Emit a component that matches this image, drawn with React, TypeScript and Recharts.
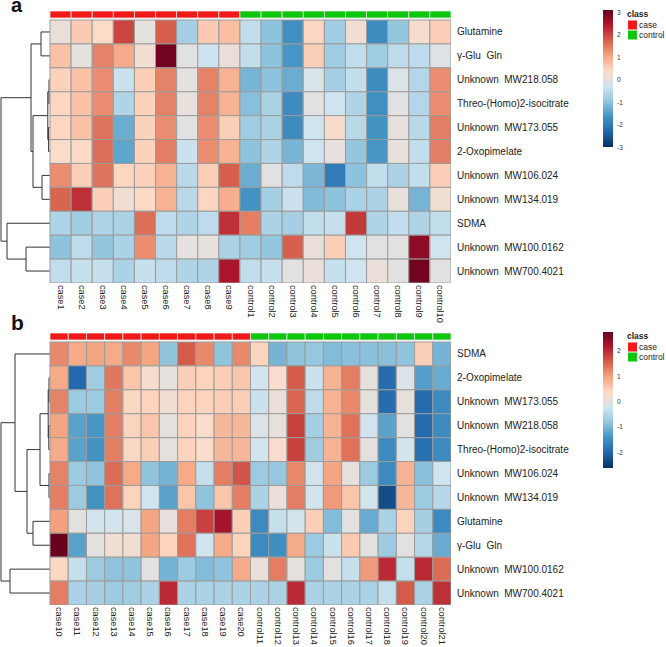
import React from 'react';
import { ScatterChart, Scatter, XAxis, YAxis, ReferenceLine } from 'recharts';

// ---- panel a ----
const rowsA = [
  'Glutamine',
  'γ-Glu  Gln',
  'Unknown  MW218.058',
  'Threo-(Homo)2-isocitrate',
  'Unknown  MW173.055',
  '2-Oxopimelate',
  'Unknown  MW106.024',
  'Unknown  MW134.019',
  'SDMA',
  'Unknown  MW100.0162',
  'Unknown  MW700.4021',
];
const colsA = [
  'case1', 'case2', 'case3', 'case4', 'case5', 'case6', 'case7', 'case8', 'case9',
  'control1', 'control2', 'control3', 'control4', 'control5', 'control6', 'control7',
  'control8', 'control9', 'control10',
];
const classA = [
  'case', 'case', 'case', 'case', 'case', 'case', 'case', 'case', 'case',
  'control', 'control', 'control', 'control', 'control', 'control', 'control', 'control', 'control', 'control',
];
const valuesA = [
  [0.1, 0.6, 0.35, 2.0, 0.0, 1.75, -0.75, 0.6, 0.75, -0.45, -1.0, -1.7, 0.45, -0.8, 0.2, -1.75, -0.95, 0.25, 0.55],
  [0.7, 0.0, 1.4, 1.0, 0.2, 3.0, -0.05, -0.33, 0.1, -0.45, -1.0, -1.6, 0.55, -0.8, -0.45, -0.8, -0.5, -0.5, -0.1],
  [0.5, 0.7, 1.3, -0.35, 0.55, 1.4, 0.0, 1.4, 0.9, -1.2, -1.0, -1.3, -0.15, -0.75, -0.45, -1.75, -0.15, -0.6, 1.3],
  [0.45, 0.7, 1.3, -0.65, 0.5, 1.4, 0.05, 1.4, 0.9, -1.05, -0.7, -1.75, -0.05, -0.3, -0.65, -1.7, -0.05, -0.6, 1.3],
  [0.45, 0.7, 1.55, -1.3, 0.5, 1.3, -0.05, 1.3, 0.55, -0.8, -0.7, -1.75, -0.3, 0.3, -0.55, -1.65, 0.05, -0.55, 1.45],
  [0.35, 0.4, 1.6, -1.4, 0.5, 1.45, -0.35, 1.3, 0.9, -1.0, -0.65, -1.2, -0.3, 0.05, -0.95, -1.6, 0.05, -0.45, 1.45],
  [1.3, 0.55, 1.55, 0.45, 0.5, 0.9, -0.55, 0.55, 1.75, -1.3, -0.05, -0.5, -1.15, -2.0, -1.0, -0.45, -0.7, -0.45, 0.55],
  [1.7, 2.2, 0.55, 0.2, 0.4, 0.9, -0.55, 0.45, 0.95, -1.65, -0.75, -0.35, -1.1, -1.0, -0.7, -0.7, 0.05, -1.2, 0.2],
  [-0.65, -0.8, -0.65, -0.7, 1.6, -0.5, -0.65, -0.5, 2.2, 1.45, -0.7, -0.75, -0.45, -0.4, 2.1, -0.65, -0.45, -0.65, -0.45],
  [-1.0, -0.5, -0.95, -0.7, 1.3, -0.55, 0.0, 0.05, -0.7, -0.8, -0.95, 1.75, 0.1, 0.55, -0.3, -0.05, -0.05, 2.75, -0.3],
  [-0.45, -0.4, -0.4, -0.7, -0.4, -0.5, -0.65, -0.65, 2.5, -0.45, -0.4, -0.05, 0.1, -0.4, -0.3, 0.1, -0.05, 3.0, -0.05],
];
// hclust style merges: negative = leaf (row), positive = earlier merge
const mergeA = [[-3, -4], [-5, -6], [1, 2], [-1, -2], [-7, -8], [3, 5], [4, 6], [-10, -11], [-9, 8], [7, 9]];
const heightA = [1.0, 1.4, 2.2, 9, 8, 17, 19, 24, 43, 49];
const rangeA = [-3.0, 3.1];
const legendTicksA = [3, 2, 1, 0, -1, -2, -3];

// ---- panel b ----
const rowsB = [
  'SDMA',
  '2-Oxopimelate',
  'Unknown  MW173.055',
  'Unknown  MW218.058',
  'Threo-(Homo)2-isocitrate',
  'Unknown  MW106.024',
  'Unknown  MW134.019',
  'Glutamine',
  'γ-Glu  Gln',
  'Unknown  MW100.0162',
  'Unknown  MW700.4021',
];
const colsB = [
  'case10', 'case11', 'case12', 'case13', 'case14', 'case15', 'case16', 'case17', 'case18', 'case19', 'case20',
  'control11', 'control12', 'control13', 'control14', 'control15', 'control16', 'control17', 'control18',
  'control19', 'control20', 'control21',
];
const classB = [
  'case', 'case', 'case', 'case', 'case', 'case', 'case', 'case', 'case', 'case', 'case',
  'control', 'control', 'control', 'control', 'control', 'control', 'control', 'control', 'control', 'control', 'control',
];
const valuesB = [
  [1.2, 0.9, 0.95, 0.9, 1.2, 0.95, -0.85, 1.6, 1.2, -0.85, 1.2, 0.45, -1.05, -0.85, -0.8, -0.95, -0.9, -0.9, -0.9, -0.85, 0.5, -1.05],
  [0.9, -2.0, -0.7, 1.35, 0.6, 0.25, 0.05, 0.5, 0.45, 0.5, 0.6, -0.2, 0.3, 1.6, -0.3, 0.8, 1.3, 0.05, -1.95, -0.1, -1.3, -1.15],
  [1.25, -0.75, -0.75, 1.3, 0.4, 0.45, 0.2, 0.45, 0.45, 0.5, 0.5, -0.3, 0.1, 1.5, -0.4, 0.8, 1.2, 0.05, -1.95, 0.05, -1.95, -1.55],
  [0.95, -1.25, -1.4, 1.3, 0.45, 0.6, 0.0, 0.45, 0.3, 0.75, 0.75, -0.1, 0.05, 1.8, -0.65, 0.8, 1.4, -0.25, -1.25, 0.0, -1.95, -1.55],
  [0.9, -1.25, -1.45, 1.3, 0.4, 0.5, 0.0, 0.45, 0.3, 0.75, 0.75, -0.2, 0.3, 1.8, -0.7, 0.8, 1.4, 0.0, -1.55, -0.2, -1.9, -1.55],
  [1.25, -0.75, -0.85, 1.45, 0.9, -0.85, -1.05, 0.9, -0.35, 1.3, 1.65, -0.75, -0.8, 1.2, -0.2, 0.95, 0.05, -0.75, -1.55, 0.8, -0.9, -0.25],
  [1.3, -0.75, -1.45, 1.4, 0.45, -0.25, -1.25, 0.6, -0.85, 0.6, 1.3, -0.6, 0.1, 1.3, -0.2, 1.05, 0.6, -0.2, -2.3, 0.75, -0.75, -0.5],
  [1.0, 0.0, -0.2, -0.2, -0.15, 0.95, 0.05, 1.3, 1.8, 2.25, 0.5, -1.55, -0.35, -0.2, 0.5, -0.95, 0.0, -1.15, -0.6, 0.45, -0.65, -1.55],
  [2.75, -1.25, 0.0, 0.2, 0.2, 0.95, 0.45, 1.4, -0.25, 0.9, 0.45, -1.55, -1.5, 0.9, -0.75, -0.3, 0.55, 0.0, -0.75, 0.0, -0.5, -1.15],
  [0.4, -0.35, -0.75, -0.85, -0.85, 0.0, -1.05, -0.75, -0.95, -0.85, 0.9, 0.1, 1.3, 0.05, -0.75, 0.0, -0.35, 1.05, 2.0, -0.35, 2.0, 1.45],
  [1.3, -0.6, -0.65, -0.75, -0.7, -0.6, 2.0, -0.6, -0.6, -0.6, -0.6, -0.6, -0.6, 2.0, -0.6, -0.6, -0.6, -0.6, -0.35, 1.6, -0.6, 1.95],
];
const mergeB = [[-2, -3], [-4, -5], [1, 2], [-6, -7], [3, 4], [-8, -9], [5, 6], [-1, 7], [-10, -11], [8, 9]];
const heightB = [1.0, 1.2, 1.8, 1.0, 10, 17, 23, 35, 40, 49];
const rangeB = [-2.63, 2.75];
const legendTicksB = [2, 1, 0, -1, -2];

const classColors: Record<string, string> = { case: '#F21818', control: '#0DC70D' };
const RDBU = ['#053061', '#2166AC', '#4393C3', '#92C5DE', '#D1E5F0', '#FDDBC7', '#F4A582', '#D6604D', '#B2182B', '#67001F'];

const FONT = "'Liberation Sans', Arial, Helvetica, sans-serif";
const PAGE_W = 666;
const PAGE_H = 647;
const HEAT_LEFT = 50;
const HEAT_RIGHT = 451;
const ANNOT_H = 7;
const GAP = 2;

function hexRgb(h: string) {
  const n = parseInt(h.slice(1), 16);
  return [(n >> 16) & 255, (n >> 8) & 255, n & 255];
}

function heatColor(v: number, lo: number, hi: number) {
  const t = Math.min(1, Math.max(0, (v - lo) / (hi - lo))) * (RDBU.length - 1);
  const i = Math.min(RDBU.length - 2, Math.floor(t));
  const f = t - i;
  const a = hexRgb(RDBU[i]);
  const b = hexRgb(RDBU[i + 1]);
  const c = a.map((x, k) => Math.round(x + (b[k] - x) * f));
  return `rgb(${c[0]},${c[1]},${c[2]})`;
}

function dendroSegments(merge: number[][], heights: number[], span: number) {
  const hMax = Math.max(...heights);
  const pos: { x: number; y: number }[] = [];
  const ref = (r: number) => (r < 0 ? { x: 0, y: -r - 0.5 } : pos[r - 1]);
  const segs: { x: number; y: number }[][] = [];
  merge.forEach(([a, b], i) => {
    const A = ref(a);
    const B = ref(b);
    const x = -(heights[i] / hMax) * span;
    segs.push([{ x, y: A.y }, { x, y: B.y }]);
    segs.push([{ x, y: A.y }, { x: A.x, y: A.y }]);
    segs.push([{ x, y: B.y }, { x: B.x, y: B.y }]);
    pos.push({ x, y: (A.y + B.y) / 2 });
  });
  return segs;
}

interface PanelProps {
  rows: string[];
  cols: string[];
  classes: string[];
  values: number[][];
  merge: number[][];
  heights: number[];
  range: number[];
  chartTop: number;
  chartBottom: number;
  heatTop: number;
  heatBottom: number;
}

function HeatPanel({ rows, cols, classes, values, merge, heights, range, chartTop, chartBottom, heatTop, heatBottom }: PanelProps) {
  const nR = rows.length;
  const nC = cols.length;
  const cw = (HEAT_RIGHT - HEAT_LEFT) / nC;
  const rh = (heatBottom - heatTop) / nR;
  const xMin = -HEAT_LEFT / cw;
  const yMin = -(GAP + ANNOT_H) / rh;
  const annotY = -(GAP + ANNOT_H / 2) / rh;
  const marginTop = heatTop - GAP - ANNOT_H - chartTop;

  const cells = values.flatMap((row, r) => row.map((v, c) => ({ x: c + 0.5, y: r + 0.5, v })));
  const annot = classes.map((cls, c) => ({ x: c + 0.5, y: annotY, cls }));
  const segs = dendroSegments(merge, heights, (HEAT_LEFT - 1) / cw);

  return (
    <div style={{ position: 'absolute', left: 0, top: chartTop }}>
      <ScatterChart
        width={PAGE_W}
        height={chartBottom - chartTop}
        margin={{ top: marginTop, right: 0, bottom: 0, left: 0 }}
      >
        <XAxis
          type="number"
          dataKey="x"
          domain={[xMin, nC]}
          allowDataOverflow
          ticks={cols.map((_, i) => i + 0.5)}
          interval={0}
          height={chartBottom - heatBottom}
          axisLine={false}
          tickLine={false}
          tickSize={0}
          tickMargin={2}
          tick={(p: any) => (
            <text
              x={p.x}
              y={p.y}
              transform={`rotate(90, ${p.x}, ${p.y})`}
              textAnchor="start"
              dominantBaseline="central"
              fontSize={9.2}
              fontFamily={FONT}
              fill="#222"
            >
              {cols[Math.floor(p.payload.value)]}
            </text>
          )}
        />
        <YAxis
          type="number"
          dataKey="y"
          orientation="right"
          domain={[yMin, nR]}
          reversed
          allowDataOverflow
          ticks={rows.map((_, i) => i + 0.5)}
          interval={0}
          width={PAGE_W - HEAT_RIGHT}
          axisLine={false}
          tickLine={false}
          tickSize={0}
          tickMargin={6}
          tick={(p: any) => (
            <text
              x={p.x}
              y={p.y}
              textAnchor="start"
              dominantBaseline="central"
              fontSize={10}
              fontFamily={FONT}
              fill="#222"
              style={{ whiteSpace: 'pre' }}
            >
              {rows[Math.floor(p.payload.value)]}
            </text>
          )}
        />
        <Scatter
          data={cells}
          isAnimationActive={false}
          shape={(p: any) => (
            <rect
              x={p.cx - cw / 2}
              y={p.cy - rh / 2}
              width={cw}
              height={rh}
              fill={heatColor(p.payload.v, range[0], range[1])}
              stroke="#9c9c9c"
              strokeWidth={1}
            />
          )}
        />
        <Scatter
          data={annot}
          isAnimationActive={false}
          shape={(p: any) => (
            <rect
              x={p.cx - cw / 2}
              y={p.cy - ANNOT_H / 2}
              width={cw}
              height={ANNOT_H}
              fill={classColors[p.payload.cls]}
              stroke="#e2e2e2"
              strokeWidth={0.8}
            />
          )}
        />
        {segs.map((s, i) => (
          <ReferenceLine key={i} segment={s} stroke="#333" strokeWidth={1} ifOverflow="visible" />
        ))}
      </ScatterChart>
    </div>
  );
}

function ColorLegend({ id, top, bottom, range, ticks }: { id: string; top: number; bottom: number; range: number[]; ticks: number[] }) {
  const [lo, hi] = range;
  const h = bottom - top;
  return (
    <g fontFamily={FONT}>
      <defs>
        <linearGradient id={id} x1="0" y1="0" x2="0" y2="1">
          {RDBU.slice().reverse().map((c, i) => (
            <stop key={i} offset={`${(i / (RDBU.length - 1)) * 100}%`} stopColor={c} />
          ))}
        </linearGradient>
      </defs>
      <rect x={603} y={top} width={10} height={h} fill={`url(#${id})`} />
      {ticks.map((t) => (
        <text key={t} x={617} y={top + ((hi - t) / (hi - lo)) * h} fontSize={6.5} dominantBaseline="central" fill="#333">
          {t}
        </text>
      ))}
      <text x={627} y={top + 7} fontSize={8.5} fontWeight="bold" fill="#222">class</text>
      <rect x={628} y={top + 10.5} width={9} height={9} fill={classColors.case} />
      <rect x={628} y={top + 20.5} width={9} height={9} fill={classColors.control} />
      <text x={639} y={top + 15} fontSize={8.5} dominantBaseline="central" fill="#222">case</text>
      <text x={639} y={top + 25} fontSize={8.5} dominantBaseline="central" fill="#222">control</text>
    </g>
  );
}

export default function App() {
  return (
    <div style={{ position: 'absolute', left: 0, top: 0, width: PAGE_W, height: PAGE_H, background: '#fff', overflow: 'hidden' }}>
      <HeatPanel
        rows={rowsA}
        cols={colsA}
        classes={classA}
        values={valuesA}
        merge={mergeA}
        heights={heightA}
        range={rangeA}
        chartTop={0}
        chartBottom={330}
        heatTop={20}
        heatBottom={283}
      />
      <HeatPanel
        rows={rowsB}
        cols={colsB}
        classes={classB}
        values={valuesB}
        merge={mergeB}
        heights={heightB}
        range={rangeB}
        chartTop={322}
        chartBottom={PAGE_H}
        heatTop={342}
        heatBottom={605}
      />
      <svg width={PAGE_W} height={PAGE_H} style={{ position: 'absolute', left: 0, top: 0, pointerEvents: 'none' }}>
        <text x={11} y={11.5} fontSize={20} fontWeight="bold" fontFamily={FONT} fill="#111">a</text>
        <text x={11} y={330} fontSize={21} fontWeight="bold" fontFamily={FONT} fill="#111">b</text>
        <ColorLegend id="gradA" top={10} bottom={147} range={rangeA} ticks={legendTicksA} />
        <ColorLegend id="gradB" top={332} bottom={468} range={rangeB} ticks={legendTicksB} />
      </svg>
    </div>
  );
}
